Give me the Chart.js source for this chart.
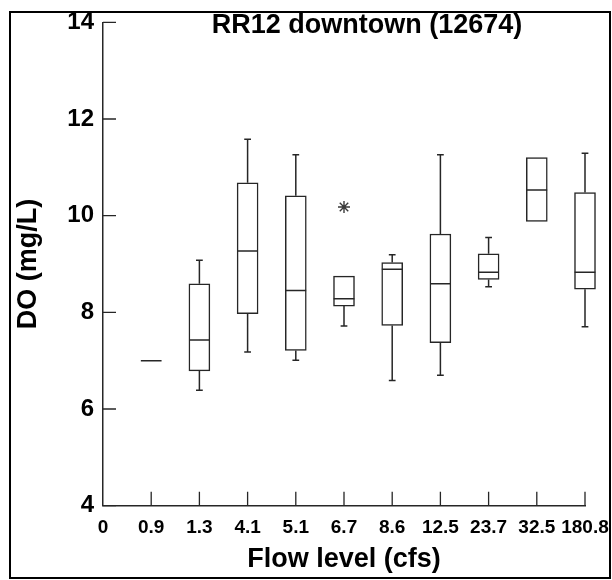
<!DOCTYPE html>
<html>
<head>
<meta charset="utf-8">
<script src="https://cdn.jsdelivr.net/npm/chart.js@4"></script>
<style>
  html, body { margin: 0; padding: 0; background: #ffffff; }
  #wrap { position: relative; width: 612px; height: 580px; }
  #c { position: absolute; left: 0; top: 0; }
  #frame { position: absolute; left: 9px; top: 11px; width: 598px; height: 564px; border: 2px solid #000; pointer-events: none; }
</style>
</head>
<body>
<div id="wrap">
  <canvas id="c" width="612" height="580"></canvas>
  <div id="frame"></div>
</div>
<script>
// ---- data ----
const titleText = 'RR12 downtown (12674)';
const xAxisTitle = 'Flow level (cfs)';
const yAxisTitle = 'DO (mg/L)';
const categories = ['0', '0.9', '1.3', '4.1', '5.1', '6.7', '8.6', '12.5', '23.7', '32.5', '180.8'];
const boxCategories = ['0.9', '1.3', '4.1', '5.1', '6.7', '8.6', '12.5', '23.7', '32.5', '180.8'];
const whiskerLow  = [7.00, 6.39, 7.18, 7.01, 7.72, 6.59, 6.70, 8.53, 9.88, 7.70];
const q1          = [7.00, 6.79, 7.97, 7.21, 8.13, 7.73, 7.37, 8.68, 9.88, 8.48];
const median      = [7.00, 7.43, 9.27, 8.45, 8.28, 8.89, 8.59, 8.83, 10.53, 8.83];
const q3          = [7.00, 8.59, 10.68, 10.41, 8.75, 9.03, 9.62, 9.21, 11.20, 10.48];
const whiskerHigh = [7.00, 9.08, 11.58, 11.26, 8.75, 9.19, 11.26, 9.55, 11.20, 11.29];
const outlierCategories = ['6.7'];
const outlierValues = [10.18];
const yTicks = [4, 6, 8, 10, 12, 14];

// ---- build datasets ----
const FONT = '"Liberation Sans", Arial, Helvetica, sans-serif';
const INK = '#262626';
const BOX_HALF = 0.215;   // half box width in category units
const CAP_HALF = 0.07;    // half whisker cap width in category units
const xIndex = c => categories.indexOf(c);

const boxData = boxCategories.map((c, i) => ({ x: xIndex(c), y: [q1[i], q3[i]] }));

const medianData = [];
boxCategories.forEach((c, i) => {
  const x = xIndex(c);
  medianData.push({ x: x - BOX_HALF, y: median[i] }, { x: x + BOX_HALF, y: median[i] }, { x: x, y: null });
});

const whiskerData = [];
boxCategories.forEach((c, i) => {
  const x = xIndex(c);
  if (whiskerLow[i] < q1[i]) {
    whiskerData.push({ x: x, y: whiskerLow[i] }, { x: x, y: q1[i] }, { x: x, y: null });
    whiskerData.push({ x: x - CAP_HALF, y: whiskerLow[i] }, { x: x + CAP_HALF, y: whiskerLow[i] }, { x: x, y: null });
  }
  if (whiskerHigh[i] > q3[i]) {
    whiskerData.push({ x: x, y: q3[i] }, { x: x, y: whiskerHigh[i] }, { x: x, y: null });
    whiskerData.push({ x: x - CAP_HALF, y: whiskerHigh[i] }, { x: x + CAP_HALF, y: whiskerHigh[i] }, { x: x, y: null });
  }
});

const outlierData = outlierCategories.map((c, i) => ({ x: xIndex(c), y: outlierValues[i] }));

// ---- plugins ----
const inwardTicks = {
  id: 'inwardTicks',
  afterDraw(chart) {
    const { ctx, chartArea, scales } = chart;
    ctx.save();
    ctx.strokeStyle = INK;
    ctx.lineWidth = 1.3;
    ctx.beginPath();
    scales.y.ticks.forEach(t => {
      const py = scales.y.getPixelForValue(t.value);
      ctx.moveTo(chartArea.left, py);
      ctx.lineTo(chartArea.left + 13, py);
    });
    scales.x.ticks.forEach(t => {
      if (t.value === 0) return;
      const px = scales.x.getPixelForValue(t.value);
      ctx.moveTo(px, chartArea.bottom);
      ctx.lineTo(px, chartArea.bottom - 14);
    });
    ctx.stroke();
    ctx.restore();
  }
};

const plotTitle = {
  id: 'plotTitle',
  afterDraw(chart, args, opts) {
    const { ctx } = chart;
    ctx.save();
    ctx.font = 'bold ' + opts.size + 'px ' + FONT;
    ctx.fillStyle = '#000';
    ctx.textAlign = 'center';
    ctx.textBaseline = 'middle';
    ctx.fillText(opts.text, opts.x, opts.y);
    ctx.restore();
  }
};

new Chart(document.getElementById('c'), {
  type: 'bar',
  data: {
    datasets: [
      {
        type: 'bar',
        data: boxData,
        backgroundColor: '#ffffff',
        borderColor: INK,
        borderWidth: 1.5,
        borderSkipped: false,
        barThickness: 21,
        clip: false,
        order: 3
      },
      {
        type: 'line',
        data: whiskerData,
        borderColor: INK,
        borderWidth: 1.5,
        pointRadius: 0,
        spanGaps: false,
        fill: false,
        clip: false,
        order: 2
      },
      {
        type: 'line',
        data: medianData,
        borderColor: INK,
        borderWidth: 1.5,
        pointRadius: 0,
        spanGaps: false,
        fill: false,
        clip: false,
        order: 1
      },
      {
        type: 'scatter',
        data: outlierData,
        pointStyle: 'star',
        pointRadius: 6,
        borderColor: '#3a3a3a',
        borderWidth: 1.4,
        clip: false,
        order: 0
      }
    ]
  },
  options: {
    responsive: false,
    animation: false,
    devicePixelRatio: 1,
    layout: { padding: { left: 0, right: 27, top: 22.3, bottom: 0 } },
    plugins: {
      legend: { display: false },
      tooltip: { enabled: false },
      plotTitle: { text: titleText, x: 367, y: 26, size: 27 }
    },
    scales: {
      x: {
        type: 'linear',
        offset: false,
        min: 0,
        max: categories.length - 1,
        afterFit(scale) { scale.height = 74.3; scale.paddingLeft = 0; scale.paddingRight = 0; },
        grid: { display: true, offset: false, drawOnChartArea: false, drawTicks: false },
        border: { display: true, color: INK, width: 1.5 },
        ticks: {
          stepSize: 1,
          autoSkip: false,
          maxRotation: 0,
          padding: 11,
          color: '#000',
          font: { family: FONT, size: 19, weight: 'bold' },
          callback: v => categories[v]
        },
        title: {
          display: true,
          text: xAxisTitle,
          color: '#000',
          font: { family: FONT, size: 27, weight: 'bold' },
          padding: { top: 0, bottom: 4 }
        }
      },
      y: {
        min: 4,
        max: 14,
        afterFit(scale) { scale.width = 103; scale.paddingTop = 0; scale.paddingBottom = 0; },
        afterBuildTicks(scale) { scale.ticks = yTicks.map(v => ({ value: v })); },
        grid: { display: true, drawOnChartArea: false, drawTicks: false },
        border: { display: true, color: INK, width: 1.5 },
        ticks: {
          padding: 9,
          color: '#000',
          font: { family: FONT, size: 24, weight: 'bold' }
        },
        title: {
          display: true,
          text: yAxisTitle,
          color: '#000',
          font: { family: FONT, size: 27, weight: 'bold' },
          padding: { top: 12, bottom: 0 }
        }
      }
    }
  },
  plugins: [inwardTicks, plotTitle]
});
</script>
</body>
</html>
